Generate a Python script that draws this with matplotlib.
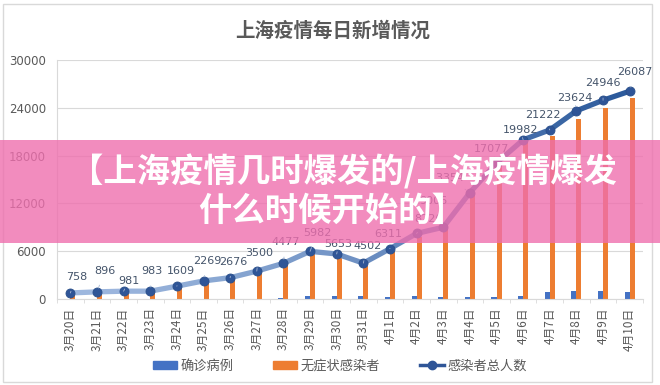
import numpy as np
import matplotlib
matplotlib.use("Agg")
import matplotlib.pyplot as plt
from matplotlib.collections import LineCollection
from matplotlib.patches import Rectangle, Patch
from matplotlib.lines import Line2D
from matplotlib.colors import to_rgb

plt.rcParams['font.family'] = ['Noto Sans CJK SC', 'DejaVu Sans']

# ---- data ----
dates = ["3月20日", "3月21日", "3月22日", "3月23日", "3月24日", "3月25日", "3月26日",
         "3月27日", "3月28日", "3月29日", "3月30日", "3月31日", "4月1日", "4月2日",
         "4月3日", "4月4日", "4月5日", "4月6日", "4月7日", "4月8日", "4月9日", "4月10日"]
confirmed = [24, 31, 4, 4, 29, 38, 45, 50, 96, 326, 355, 358, 260, 438,
             260, 268, 311, 322, 824, 1015, 1006, 914]
total = [758, 896, 981, 983, 1609, 2269, 2676, 3500, 4477, 5982, 5653, 4502, 6311, 8226,
         9006, 13354, 17077, 19982, 21222, 23624, 24946, 26087]
asymptomatic = [t - c for t, c in zip(total, confirmed)]
yticks = [0, 6000, 12000, 18000, 24000, 30000]

title = "上海疫情每日新增情况"
series_names = ["确诊病例", "无症状感染者", "感染者总人数"]
banner_lines = ["【上海疫情几时爆发的/上海疫情爆发", "什么时候开始的】"]

# label offsets in pixels (style only)
label_offsets = [(6, 16), (8, 21), (5, 10), (2, 20), (4, 15), (4, 20), (3, 16), (2, 18),
                 (2, 21), (7, 18), (2, 10), (4, 17), (-2, 15), (12, 14), (-10, 26),
                 (-22, 15), (-5, 14), (-3, 10), (-7, 15), (-2, 13), (0, 17), (5, 19)]

W, H = 660, 385
fig = plt.figure(figsize=(W / 100, H / 100), dpi=100)
fig.patch.set_facecolor('white')

ax = fig.add_axes([57 / W, 86 / H, 586 / W, 239 / H])
x = np.arange(len(dates))
bw = 0.19
ax.bar(x - 0.095, confirmed, width=bw, color='#4472C4', zorder=2)
ax.bar(x + 0.095, asymptomatic, width=bw, color='#ED7D31', zorder=2)

# gradient line
pts = np.column_stack([x, total]).reshape(-1, 1, 2)
segs = np.concatenate([pts[:-1], pts[1:]], axis=1)
c0 = np.array(to_rgb('#9DB7DE'))
c1 = np.array(to_rgb('#2C5A9C'))
tt = np.linspace(0, 1, len(segs)) ** 1.3
cols = [tuple(c0 * (1 - t) + c1 * t) for t in tt]
lc = LineCollection(segs, colors=cols, linewidths=3.8, capstyle='round', zorder=3)
ax.add_collection(lc)
ax.plot(x, total, ls='none', marker='o', ms=6.5, color='#2F5597',
        markeredgecolor='#2A4F8A', markeredgewidth=0.6, zorder=4)

for i, v in enumerate(total):
    dx, dy = label_offsets[i]
    ax.annotate(str(v), xy=(i, v), xytext=(dx, dy), textcoords='offset pixels',
                ha='center', va='center', fontsize=8, color='#44546A', zorder=5,
                family=['DejaVu Sans'],
                arrowprops=dict(arrowstyle='-', color='#A6B8D4', lw=0.6,
                                shrinkA=5, shrinkB=3))

ax.set_xlim(-0.5, len(dates) - 0.5)
ax.set_ylim(0, 30000)
ax.set_yticks(yticks)
ax.set_yticklabels([str(v) for v in yticks], fontsize=8.5, color='#595959',
                   family=['DejaVu Sans'])
ax.yaxis.grid(True, color='#D9D9D9', lw=0.8, zorder=0)
ax.set_axisbelow(True)
ax.tick_params(axis='y', length=0, pad=8)
ax.set_xticks(x)
ax.set_xticklabels(dates, rotation=90, fontsize=8.5, color='#595959')
ax.tick_params(axis='x', length=0, pad=6)
ax.set_xticks(np.arange(-0.5, len(dates), 1), minor=True)
ax.tick_params(axis='x', which='minor', length=3, color='#D9D9D9')
for s in ['top', 'right']:
    ax.spines[s].set_visible(False)
ax.spines['left'].set_color('#D9D9D9')
ax.spines['bottom'].set_color('#D9D9D9')

# title
fig.text(333 / W, 1 - 31 / H, title, ha='center', va='center', fontsize=14,
         fontweight='bold', color='#595959')

# legend
handles = [Patch(color='#4472C4'), Patch(color='#ED7D31'),
           Line2D([0], [0], color='#2F5597', lw=2.5, marker='o', ms=6)]
fig.legend(handles, series_names, loc='center', bbox_to_anchor=(340 / W, 1 - 366 / H),
           ncol=3, frameon=False, fontsize=9.5, handlelength=1.8, handleheight=0.6,
           columnspacing=3.0, handletextpad=0.3, labelcolor='#595959')

# outer border
fig.patches.append(Rectangle((3 / W, 3 / H), 649 / W, 378 / H, transform=fig.transFigure,
                             fill=False, edgecolor='#D9D9D9', lw=1, zorder=1))

# pink banner overlay
fig.patches.append(Rectangle((0, 1 - 243 / H), 1, 103 / H, transform=fig.transFigure,
                             facecolor='#EF6FAE', alpha=0.8, lw=0, zorder=10))
fig.text(343 / W, 1 - 172 / H, banner_lines[0], ha='center', va='center', fontsize=24,
         fontweight='bold', color='white', zorder=11)
fig.text(332 / W, 1 - 211 / H, banner_lines[1], ha='center', va='center', fontsize=24,
         fontweight='bold', color='white', zorder=11)

fig.savefig('out.png', dpi=100)
